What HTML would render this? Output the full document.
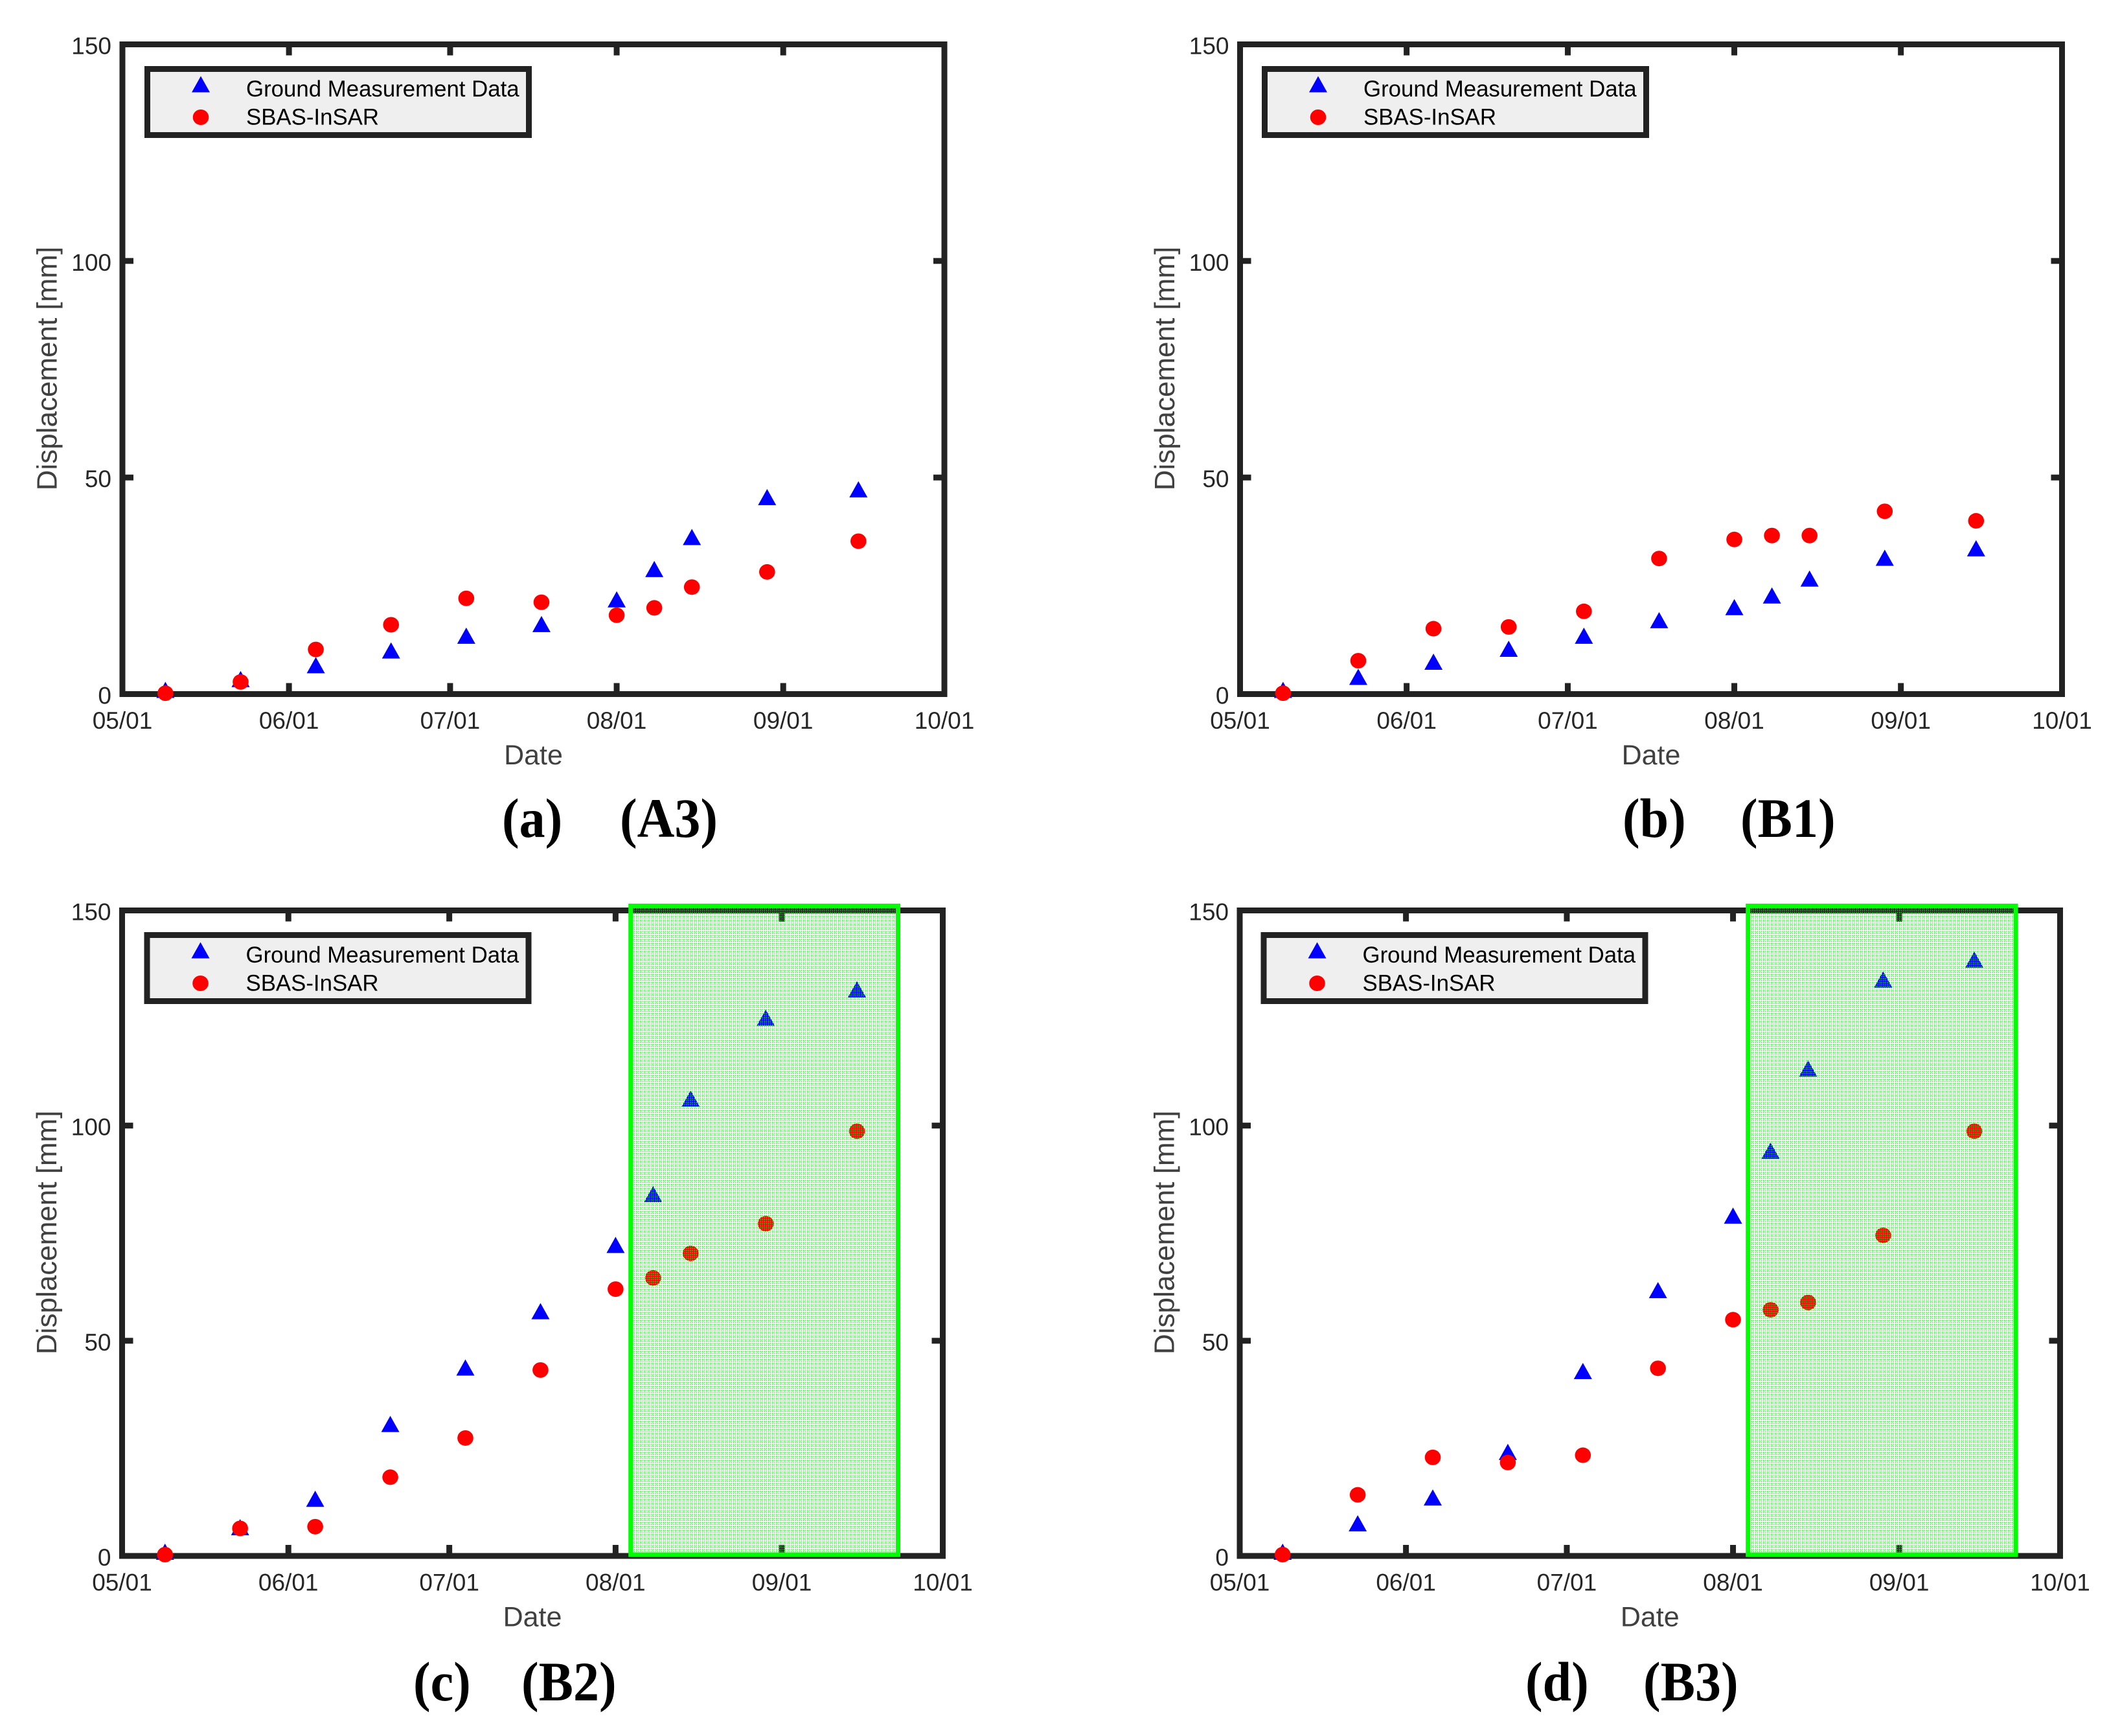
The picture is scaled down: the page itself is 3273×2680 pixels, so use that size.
<!DOCTYPE html>
<html lang="en">
<head>
<meta charset="utf-8">
<title>Displacement comparison: ground measurement and SBAS-InSAR</title>
<style>
  html, body { margin: 0; padding: 0; background: #fff; }
  svg { display: block; }
  .tick { font: 37px "Liberation Sans", sans-serif; fill: #262626; }
  .axis-title { font: 43px "Liberation Sans", sans-serif; fill: #404040; }
  .y-title { font-size: 44px; }
  .legend-text { font: 34.8px "Liberation Sans", sans-serif; fill: #000; }
  .caption { font: bold 86px "Liberation Serif", serif; fill: #000; }
</style>
</head>
<body>
<svg id="figure" xmlns="http://www.w3.org/2000/svg" width="3273" height="2680" viewBox="0 0 3273 2680">
  <defs>
    <pattern id="dots" patternUnits="userSpaceOnUse" width="3" height="3">
      <rect x="0.6" y="0.6" width="1.4" height="1.4" fill="#00ff00"></rect>
    </pattern>
  </defs>
  <rect x="0" y="0" width="3273" height="2680" fill="#ffffff"></rect>
</svg>
<script>
// Chart data: survey dates as days since 05/01, displacement in mm
const surveyDays = [8, 22, 36, 50, 64, 78, 92, 99, 106, 120, 137];
const xTickDays = [0, 31, 61, 92, 123, 153];
const xTickLabels = ['05/01', '06/01', '07/01', '08/01', '09/01', '10/01'];
const yTickValues = [0, 50, 100, 150];

const groundA3 = [0.3, 2.8, 6.0, 9.4, 12.8, 15.5, 21.2, 28.2, 35.6, 44.8, 46.6];
const sbasA3 = [0.2, 2.8, 10.3, 16.0, 22.1, 21.2, 18.2, 19.9, 24.7, 28.2, 35.3];
const groundB1 = [0.3, 3.3, 6.8, 9.8, 12.8, 16.4, 19.4, 22.1, 26.0, 30.8, 33.0];
const sbasB1 = [0.2, 7.7, 15.1, 15.5, 19.1, 31.3, 35.7, 36.6, 36.6, 42.2, 40.0];
const groundB2 = [0.3, 6.0, 12.6, 30.0, 43.1, 56.2, 71.6, 83.4, 105.6, 124.4, 131.0];
const sbasB2 = [0.3, 6.4, 6.8, 18.3, 27.4, 43.2, 62.0, 64.6, 70.3, 77.2, 98.7];
const groundB3 = [0.3, 6.9, 12.9, 23.5, 42.3, 61.1, 78.4, 93.5, 112.6, 133.3, 137.9];
const sbasB3 = [0.3, 14.2, 22.9, 21.7, 23.4, 43.6, 54.9, 57.2, 58.9, 74.5, 98.7];

const xMax = 153;
const yMax = 150;
const legendLabels = ['Ground Measurement Data', 'SBAS-InSAR'];

const panels = [
  { id: 'a3', x0: 189, x1: 1458, top: 68.5, bottom: 1071.5, legendShift: 0, ground: groundA3, sbas: sbasA3,
    letter: '(a)', letterX: 775, code: '(A3)', codeX: 957, capY: 1292, band: null },
  { id: 'b1', x0: 1914.5, x1: 3183.5, top: 68.5, bottom: 1071.5, legendShift: -0.5, ground: groundB1, sbas: sbasB1,
    letter: '(b)', letterX: 2505, code: '(B1)', codeX: 2687, capY: 1292, band: null },
  { id: 'b2', x0: 188.5, x1: 1455.5, top: 1405.5, bottom: 2402, legendShift: 0, ground: groundB2, sbas: sbasB2,
    letter: '(c)', letterX: 638, code: '(B2)', codeX: 805, capY: 2625, band: [973.7, 1386.5, 1398.5, 2400] },
  { id: 'b3', x0: 1914, x1: 3180.5, top: 1405.5, bottom: 2402, legendShift: -1.5, ground: groundB3, sbas: sbasB3,
    letter: '(d)', letterX: 2355, code: '(B3)', codeX: 2537, capY: 2625, band: [2698.7, 3112, 1398.5, 2400] }
];

const SVGNS = 'http://www.w3.org/2000/svg';
const root = document.getElementById('figure');
const captionSquash = 0.93;

function make(parent, tag, attrs, text) {
  const el = document.createElementNS(SVGNS, tag);
  for (const k in attrs) el.setAttribute(k, attrs[k]);
  if (text !== undefined) el.textContent = text;
  parent.appendChild(el);
  return el;
}

function trianglePoints(cx, cy) {
  return (cx - 14) + ',' + (cy + 8) + ' ' + (cx + 14) + ',' + (cy + 8) + ' ' + cx + ',' + (cy - 17);
}

function drawPanel(p) {
  const xScale = function (d) { return p.x0 + (d / xMax) * (p.x1 - p.x0); };
  const yScale = function (v) { return p.bottom - (v / yMax) * (p.bottom - p.top); };
  const ink = '#222222';

  const g = make(root, 'g', {});
  
  

  const frame = make(g, 'rect', { x: p.x0, y: p.top, width: p.x1 - p.x0, height: p.bottom - p.top, fill: '#ffffff', stroke: ink, 'stroke-width': 9 });
  
  

  xTickDays.forEach(function (d, i) {
    const x = xScale(d);
    if (i > 0 && i < xTickDays.length - 1) {
      const tb = make(g, 'rect', { x: x - 4.5, y: p.bottom - 17, width: 9, height: 14, fill: ink });
      
      
      const tt = make(g, 'rect', { x: x - 4.5, y: p.top + 3, width: 9, height: 14, fill: ink });
      
      
    }
    const lbl = make(g, 'text', { class: 'tick', x: x, y: p.bottom + 53.5, 'text-anchor': 'middle' }, xTickLabels[i]);
    
    
  });

  yTickValues.forEach(function (v) {
    const y = yScale(v);
    if (v > 0 && v < yMax) {
      const tl = make(g, 'rect', { x: p.x0 + 3, y: y - 4.5, width: 14, height: 9, fill: ink });
      
      
      const tr = make(g, 'rect', { x: p.x1 - 17, y: y - 4.5, width: 14, height: 9, fill: ink });
      
      
    }
    const lbl = make(g, 'text', { class: 'tick', x: p.x0 - 17, y: y + 15, 'text-anchor': 'end' }, String(v));
    
    
  });

  const midX = (p.x0 + p.x1) / 2;
  const midY = (p.top + p.bottom) / 2 - 1;
  const xt = make(g, 'text', { class: 'axis-title', x: midX, y: p.bottom + 108.5, 'text-anchor': 'middle' }, 'Date');
  
  
  const yx = p.x0 - 101.5;
  const yt = make(g, 'text', { class: 'axis-title y-title', x: yx, y: midY, 'text-anchor': 'middle', transform: 'rotate(-90 ' + yx + ' ' + midY + ')' }, 'Displacement [mm]');
  
  

  surveyDays.forEach(function (d, i) {
    const tri = make(g, 'polygon', { points: trianglePoints(xScale(d), yScale(p.ground[i])), fill: '#0000ff' });
    
    
  });
  surveyDays.forEach(function (d, i) {
    const dot = make(g, 'ellipse', { cx: xScale(d), cy: yScale(p.sbas[i]), rx: 12.3, ry: 12, fill: '#ff0000' });
    
    
  });

  const lx = p.x0 + 38.5 + p.legendShift;
  const ly = p.top + 38;
  const box = make(g, 'rect', { x: lx, y: ly, width: 589, height: 102, fill: '#efefef', stroke: ink, 'stroke-width': 9 });
  
  
  const lt = make(g, 'polygon', { points: trianglePoints(lx + 82.5, p.top + 66), fill: '#0000ff' });
  
  
  const lc = make(g, 'ellipse', { cx: lx + 82.5, cy: p.top + 112.5, rx: 12.3, ry: 12, fill: '#ff0000' });
  
  
  const l1 = make(g, 'text', { class: 'legend-text', x: lx + 152.5, y: p.top + 80.5 }, legendLabels[0]);
  
  
  const l2 = make(g, 'text', { class: 'legend-text', x: lx + 152.5, y: p.top + 124 }, legendLabels[1]);
  
  

  if (p.band) {
    const hatch = make(g, 'rect', { x: p.band[0], y: p.band[2], width: p.band[1] - p.band[0], height: p.band[3] - p.band[2], fill: 'url(#dots)' });
    
    
    const border = make(g, 'rect', { x: p.band[0], y: p.band[2], width: p.band[1] - p.band[0], height: p.band[3] - p.band[2], fill: 'none', stroke: '#00ff00', 'stroke-width': 7 });
    
    
  }

  const c1 = make(g, 'text', { class: 'caption', x: 0, y: 0, transform: 'translate(' + p.letterX + ' ' + p.capY + ') scale(' + captionSquash + ' 1)' }, p.letter);
  
  
  const c2 = make(g, 'text', { class: 'caption', x: 0, y: 0, transform: 'translate(' + p.codeX + ' ' + p.capY + ') scale(' + captionSquash + ' 1)' }, p.code);
  
  
}

panels.forEach(drawPanel);
</script>
</body>
</html>
